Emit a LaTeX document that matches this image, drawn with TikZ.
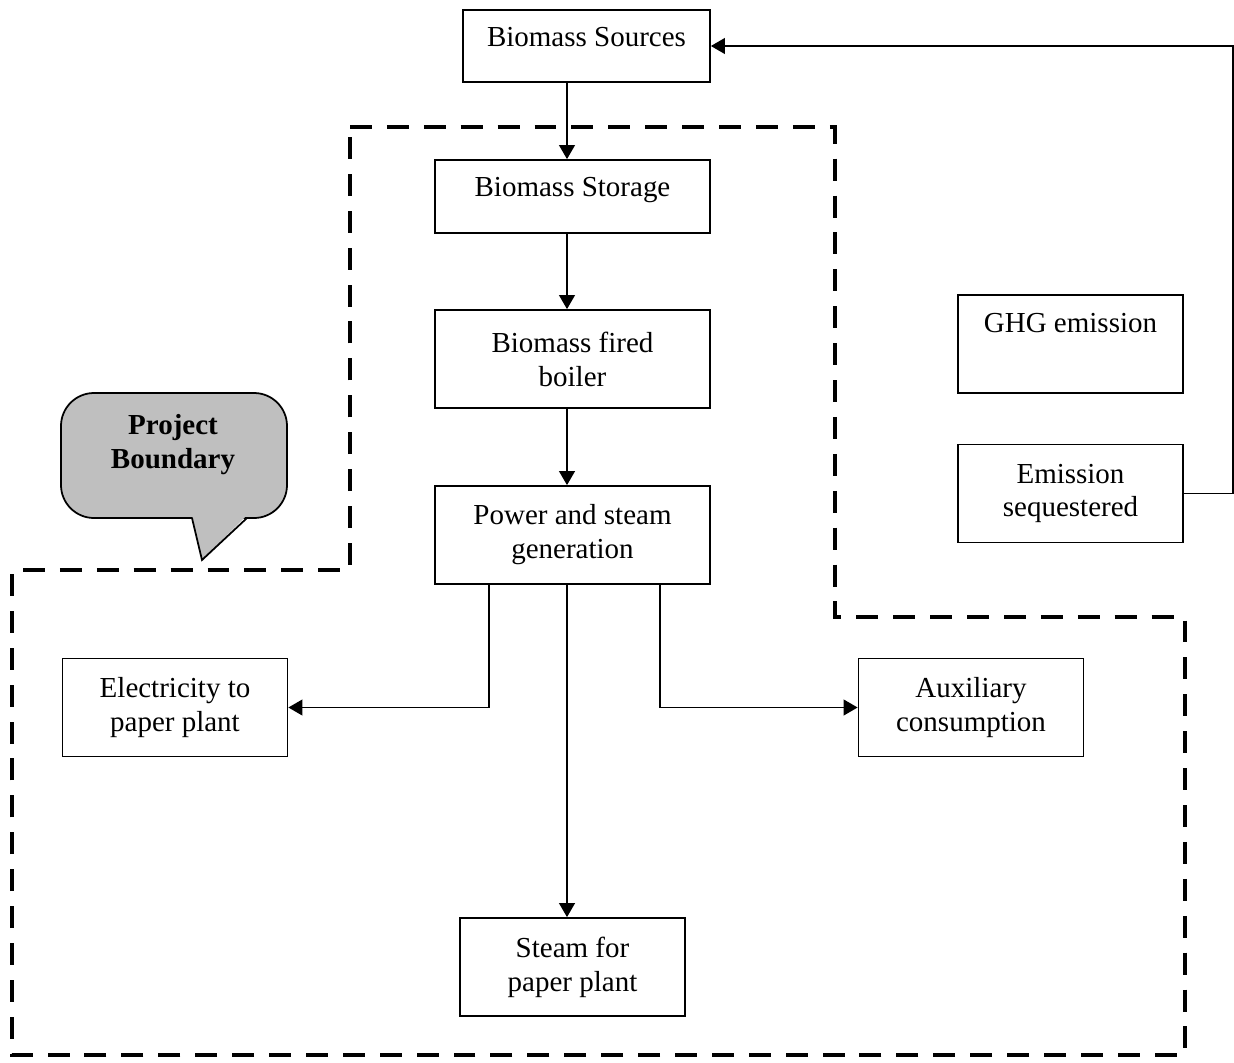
\documentclass[tikz,border=0pt]{standalone}
\usepackage{fontspec}
\setmainfont{Liberation Serif}
\usetikzlibrary{arrows.meta}

\begin{document}
\begin{tikzpicture}[
  font=\fontsize{16.5}{19.3}\selectfont,
  box/.style={draw, line width=1pt, minimum width=4.5cm, minimum height=1.96cm, inner xsep=2pt, inner ysep=0pt, align=center},
  wide/.style={box, minimum width=5.5cm},
  oneline/.style={minimum height=1.44cm, text height=0.72cm, text depth=0.72cm},
  flow/.style={->, line width=1pt},
  border/.style={line width=2.8pt, dash pattern=on 12.5pt off 8.5pt},
  >={Triangle[length=8pt,width=9pt]}]
  \useasboundingbox (0,0) rectangle (24.68,-21.24);
  % Project boundary
  \draw[border] (7,-2.54) -- (16.7,-2.54) -- (16.7,-12.34) -- (23.7,-12.34)
    -- (23.7,-21.1) -- (0.24,-21.1) -- (0.24,-11.4) -- (7,-11.4) -- cycle;
  % Callout
  \filldraw[fill=gray!50, line width=1pt, rounded corners=0.66cm] (1.22,-7.86) rectangle (5.74,-10.36);
  \fill[gray!50] (3.84,-10.3) -- (4.04,-11.2) -- (4.94,-10.3) -- cycle;
  \draw[line width=1pt] (3.84,-10.36) -- (4.04,-11.2) -- (4.94,-10.36);
  \node[font=\fontsize{16.5}{19.3}\selectfont\bfseries, align=center] (pb) at (3.46,-8.9) {Project\\Boundary};
  % Main chain
  \node[wide, oneline, minimum width=4.94cm] (src) at (11.73,-0.92) {Biomass Sources};
  \node[wide, oneline, minimum height=1.46cm] (store) at (11.45,-3.93) {Biomass Storage};
  \node[wide] (boiler) at (11.45,-7.18) {Biomass fired\\boiler};
  \node[wide] (power) at (11.45,-10.7) {Power and steam\\generation};
  % Outputs
  \node[box] (elec) at (3.5,-14.15) {Electricity to\\paper plant};
  \node[box] (aux) at (19.42,-14.15) {Auxiliary\\consumption};
  \node[box] (steam) at (11.45,-19.34) {Steam for\\paper plant};
  % Emissions
  \node[box, text height=0.74cm, text depth=1.22cm] (ghg) at (21.41,-6.88) {GHG emission};
  \node[box] (seq) at (21.41,-9.87) {Emission\\sequestered};
  % arrows
  \coordinate (spine) at (11.34,0);
  \draw[flow] (src.south -| spine) -- (store.north -| spine);
  \draw[flow] (store.south -| spine) -- (boiler.north -| spine);
  \draw[flow] (boiler.south -| spine) -- (power.north -| spine);
  \draw[flow] (power.south -| spine) -- (steam.north -| spine);
  \draw[flow] ([xshift=-1.67cm]power.south) |- (elec.east);
  \draw[flow] ([xshift=1.75cm]power.south) |- (aux.west);
  \draw[flow] (seq.east) -- ++(0.98,0) |- (src.east);
\end{tikzpicture}
\end{document}
